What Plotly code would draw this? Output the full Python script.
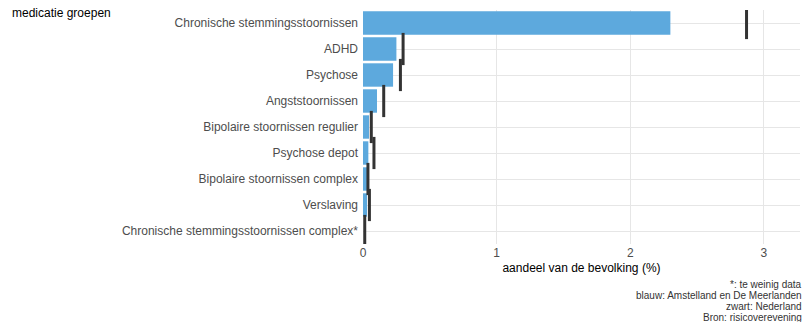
import plotly.graph_objects as go

categories = [
    "Chronische stemmingsstoornissen",
    "ADHD",
    "Psychose",
    "Angststoornissen",
    "Bipolaire stoornissen regulier",
    "Psychose depot",
    "Bipolaire stoornissen complex",
    "Verslaving",
    "Chronische stemmingsstoornissen complex*",
]
regio_values = [2.30, 0.25, 0.225, 0.105, 0.045, 0.04, 0.03, 0.03, 0.0]
nederland_values = [2.87, 0.30, 0.28, 0.155, 0.062, 0.082, 0.037, 0.048, 0.013]
x_ticks = [0, 1, 2, 3]
caption_lines = [
    "*: te weinig data",
    "blauw: Amstelland en De Meerlanden",
    "zwart: Nederland",
    "Bron: risicoverevening",
]

font_family = "Liberation Sans, Arial, sans-serif"

fig = go.Figure()
fig.add_trace(go.Bar(
    y=categories, x=regio_values, orientation="h",
    marker=dict(color="#5DA9DD", line=dict(width=0)),
    width=0.9, showlegend=False, hoverinfo="x+y",
))
fig.add_trace(go.Scatter(
    y=categories, x=nederland_values, mode="markers",
    marker=dict(symbol="line-ns", size=23, line=dict(width=3, color="#333333")),
    showlegend=False,
))

fig.update_layout(
    width=808, height=322,
    margin=dict(l=363, r=8, t=10, b=78),
    plot_bgcolor="white", paper_bgcolor="white",
    font=dict(family=font_family, size=12, color="#4d4d4d"),
    bargap=0.1,
    xaxis=dict(
        range=[0, 3.27], tickvals=x_ticks, ticktext=[str(t) for t in x_ticks],
        showgrid=True, gridcolor="#e6e6e6", gridwidth=1,
        zeroline=False, showline=False, ticks="",
        tickfont=dict(size=12, color="#4d4d4d"),
        title=dict(text="aandeel van de bevolking (%)", font=dict(size=12, color="#000000"), standoff=4),
    ),
    yaxis=dict(
        categoryorder="array", categoryarray=categories[::-1],
        range=[-0.5, 8.5],
        showgrid=True, gridcolor="#e6e6e6", gridwidth=1,
        zeroline=False, showline=False, ticks="", ticklabelstandoff=4,
        tickfont=dict(size=12, color="#4d4d4d"),
    ),
)

fig.add_annotation(
    text="medicatie groepen", xref="paper", yref="paper",
    x=-363/437, y=1, xanchor="left", yanchor="top", xshift=10, yshift=6,
    showarrow=False, font=dict(size=12, color="#000000"),
)
for i, line in enumerate(caption_lines):
    fig.add_annotation(
        text=line, xref="paper", yref="paper",
        x=1, y=0, xanchor="right", yanchor="middle",
        yshift=-40 - 11 * i, xshift=4,
        align="right", showarrow=False,
        font=dict(size=10, color="#333333"),
    )

fig.write_html(
    "out.html",
    config={"displayModeBar": False},
    post_script="document.body.style.margin='0';document.body.style.overflow='hidden';",
)
